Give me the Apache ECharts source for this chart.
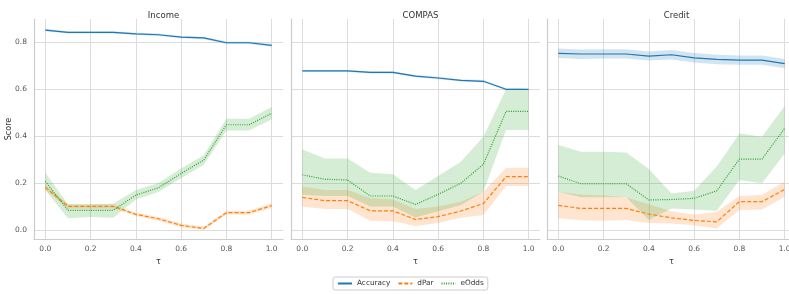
<!DOCTYPE html>
<html>
<head>
<meta charset="utf-8">
<script src="https://cdn.jsdelivr.net/npm/echarts@6/dist/echarts.min.js"></script>
<style>
  html, body { margin: 0; padding: 0; background: #fff; }
  #chart { width: 789px; height: 294px; }
</style>
</head>
<body>
<div id="chart"></div>
<script>
// tau values on the x axis
const taus = [0, 0.1, 0.2, 0.3, 0.4, 0.5, 0.6, 0.7, 0.8, 0.9, 1.0];
const panelTitles = ['Income', 'COMPAS', 'Credit'];
const metricNames = ['Accuracy', 'dPar', 'eOdds'];

// Income
const incAcc     = [0.851, 0.841, 0.841, 0.841, 0.835, 0.831, 0.821, 0.818, 0.797, 0.797, 0.786];
const incAccLo   = [0.846, 0.836, 0.836, 0.836, 0.830, 0.826, 0.816, 0.812, 0.792, 0.792, 0.780];
const incAccHi   = [0.856, 0.846, 0.846, 0.846, 0.840, 0.836, 0.826, 0.823, 0.802, 0.802, 0.792];
const incDpar    = [0.182, 0.101, 0.101, 0.101, 0.067, 0.048, 0.020, 0.007, 0.074, 0.074, 0.104];
const incDparLo  = [0.170, 0.092, 0.092, 0.092, 0.060, 0.040, 0.012, 0.000, 0.066, 0.066, 0.094];
const incDparHi  = [0.194, 0.110, 0.110, 0.110, 0.074, 0.056, 0.028, 0.014, 0.082, 0.082, 0.114];
const incEodds   = [0.207, 0.084, 0.084, 0.084, 0.149, 0.180, 0.241, 0.298, 0.448, 0.448, 0.497];
const incEoddsLo = [0.170, 0.050, 0.056, 0.052, 0.130, 0.162, 0.222, 0.278, 0.424, 0.424, 0.470];
const incEoddsHi = [0.244, 0.110, 0.110, 0.112, 0.170, 0.200, 0.262, 0.318, 0.474, 0.474, 0.524];

// COMPAS
const cmpAcc     = [0.677, 0.677, 0.677, 0.671, 0.671, 0.655, 0.647, 0.637, 0.633, 0.599, 0.599];
const cmpAccLo   = [0.673, 0.673, 0.673, 0.666, 0.666, 0.650, 0.642, 0.632, 0.628, 0.595, 0.595];
const cmpAccHi   = [0.681, 0.681, 0.681, 0.676, 0.676, 0.660, 0.652, 0.642, 0.638, 0.603, 0.603];
const cmpDpar    = [0.139, 0.125, 0.125, 0.082, 0.082, 0.045, 0.057, 0.081, 0.113, 0.227, 0.227];
const cmpDparLo  = [0.099, 0.090, 0.090, 0.040, 0.038, 0.017, 0.030, 0.052, 0.064, 0.187, 0.187];
const cmpDparHi  = [0.185, 0.170, 0.170, 0.135, 0.130, 0.090, 0.100, 0.120, 0.163, 0.265, 0.265];
const cmpEodds   = [0.235, 0.216, 0.213, 0.145, 0.145, 0.109, 0.152, 0.199, 0.280, 0.505, 0.505];
const cmpEoddsLo = [0.150, 0.145, 0.145, 0.100, 0.100, 0.054, 0.080, 0.106, 0.163, 0.426, 0.426];
const cmpEoddsHi = [0.343, 0.305, 0.305, 0.244, 0.238, 0.170, 0.230, 0.291, 0.397, 0.599, 0.599];

// Credit
const crdAcc     = [0.752, 0.749, 0.749, 0.749, 0.740, 0.746, 0.733, 0.726, 0.723, 0.723, 0.708];
const crdAccLo   = [0.732, 0.728, 0.730, 0.730, 0.721, 0.726, 0.713, 0.706, 0.703, 0.703, 0.688];
const crdAccHi   = [0.772, 0.768, 0.769, 0.769, 0.760, 0.766, 0.753, 0.746, 0.743, 0.743, 0.728];
const crdDpar    = [0.105, 0.092, 0.092, 0.092, 0.068, 0.052, 0.041, 0.035, 0.121, 0.121, 0.173];
const crdDparLo  = [0.050, 0.042, 0.040, 0.043, 0.030, 0.028, 0.020, 0.007, 0.085, 0.088, 0.142];
const crdDparHi  = [0.163, 0.150, 0.148, 0.139, 0.110, 0.080, 0.065, 0.078, 0.145, 0.150, 0.206];
const crdEodds   = [0.230, 0.197, 0.197, 0.197, 0.128, 0.130, 0.135, 0.167, 0.302, 0.302, 0.433];
const crdEoddsLo = [0.163, 0.140, 0.140, 0.140, 0.043, 0.092, 0.088, 0.082, 0.213, 0.199, 0.326];
const crdEoddsHi = [0.362, 0.333, 0.333, 0.330, 0.260, 0.156, 0.167, 0.270, 0.411, 0.397, 0.528];

const panels = [
  [[incAcc, incAccLo, incAccHi], [incDpar, incDparLo, incDparHi], [incEodds, incEoddsLo, incEoddsHi]],
  [[cmpAcc, cmpAccLo, cmpAccHi], [cmpDpar, cmpDparLo, cmpDparHi], [cmpEodds, cmpEoddsLo, cmpEoddsHi]],
  [[crdAcc, crdAccLo, crdAccHi], [crdDpar, crdDparLo, crdDparHi], [crdEodds, crdEoddsLo, crdEoddsHi]]
];

const colors = ['#1f77b4', '#ff7f0e', '#2ca02c'];
const dashes = ['solid', [4, 2], [1, 1.3]];
const gridLefts = [34, 291, 547];
const font = 'DejaVu Sans';
const gridColor = '#dcdcdc';

const chart = echarts.init(document.getElementById('chart'), null, { renderer: 'canvas' });

const grids = [], xAxes = [], yAxes = [], titles = [], series = [];

panels.forEach((panel, p) => {
  grids.push({ left: gridLefts[p], top: 19, width: 249, height: 220, outerBoundsMode: 'none', containLabel: false });
  titles.push({
    text: panelTitles[p], left: gridLefts[p] + 124.5, top: 6, textAlign: 'center',
    textStyle: { fontFamily: font, fontSize: 8.5, fontWeight: 'normal', color: '#333' }
  });
  // hidden category axis carrying the data: 11 bands of 0.1 give the -0.05..1.05 range
  xAxes.push({
    type: 'category', gridIndex: p, position: 'top', data: taus.map(String), boundaryGap: true, show: false,
    splitLine: { show: false }
  });
  // visible value axis for ticks / grid lines
  xAxes.push({
    type: 'value', gridIndex: p, position: 'bottom', min: -0.05, max: 1.05, splitNumber: 5,
    name: 'τ', nameLocation: 'middle', nameGap: 13,
    nameTextStyle: { fontFamily: font, fontSize: 8, color: '#333' },
    axisLine: { show: true, onZero: false, lineStyle: { color: '#cccccc', width: 1.2 } },
    axisTick: { show: false },
    axisLabel: {
      fontFamily: font, fontSize: 7.5, color: '#555', margin: 6,
      showMinLabel: false, showMaxLabel: false,
      formatter: v => v.toFixed(1)
    },
    splitLine: { show: true, lineStyle: { color: ['transparent', gridColor, gridColor, gridColor, gridColor, gridColor, gridColor, 'transparent'], width: 1 } }
  });
  yAxes.push({
    type: 'value', gridIndex: p, min: -0.038, max: 0.898, splitNumber: 5,
    name: p === 0 ? 'Score' : '', nameLocation: 'middle', nameGap: 21, nameMoveOverlap: false,
    nameTextStyle: { fontFamily: font, fontSize: 8, color: '#333' },
    axisLine: { show: true, onZero: false, lineStyle: { color: '#cccccc', width: 1.2 } },
    axisTick: { show: false },
    axisLabel: {
      show: p === 0, fontFamily: font, fontSize: 7.5, color: '#555', margin: 7,
      showMinLabel: false, showMaxLabel: false,
      formatter: v => v.toFixed(1)
    },
    splitLine: { show: true, lineStyle: { color: ['transparent', gridColor, gridColor, gridColor, gridColor, gridColor, 'transparent'], width: 1 } }
  });

  const xi = 2 * p;
  // confidence bands first
  panel.forEach((m, k) => {
    const [mean, lo, hi] = m;
    const stack = 'band' + p + '_' + k;
    series.push({
      type: 'line', name: 'band', xAxisIndex: xi, yAxisIndex: p, stack: stack,
      symbol: 'none', silent: true, lineStyle: { opacity: 0 },
      data: lo.slice()
    });
    series.push({
      type: 'line', name: 'band', xAxisIndex: xi, yAxisIndex: p, stack: stack,
      symbol: 'none', silent: true, lineStyle: { opacity: 0 },
      areaStyle: { color: colors[k], opacity: 0.2 },
      data: hi.map((h, i) => +(h - lo[i]).toFixed(4))
    });
  });
  // mean lines
  panel.forEach((m, k) => {
    series.push({
      type: 'line', name: metricNames[k], xAxisIndex: xi, yAxisIndex: p,
      symbol: 'none', color: colors[k],
      lineStyle: { color: colors[k], width: 1.2, type: dashes[k] },
      data: m[0].slice()
    });
  });
});

chart.setOption({
  animation: false,
  title: titles,
  grid: grids,
  xAxis: xAxes,
  yAxis: yAxes,
  legend: {
    data: metricNames, left: 333, top: 277,
    padding: [3, 4], itemGap: 7, itemWidth: 14, itemHeight: 8,
    borderColor: '#cccccc', borderWidth: 1, borderRadius: 2,
    itemStyle: { opacity: 0 },
    textStyle: { fontFamily: font, fontSize: 7.3, color: '#333', padding: [0, 0, 0, 0] }
  },
  series: series
});
</script>
</body>
</html>
